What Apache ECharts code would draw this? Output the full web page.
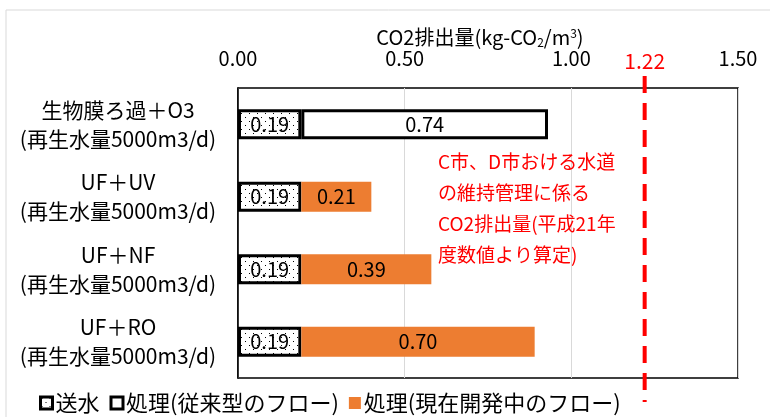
<!DOCTYPE html>
<html>
<head>
<meta charset="utf-8">
<script src="https://cdn.jsdelivr.net/npm/echarts@6/dist/echarts.min.js"></script>
<style>
  html, body { margin: 0; padding: 0; background: #fff; }
  #chart { width: 770px; height: 417px; }
</style>
</head>
<body>
<div id="chart"></div>
<script>
const categories = [
  '生物膜ろ過＋O3\n(再生水量5000m3/d)',
  'UF＋UV\n(再生水量5000m3/d)',
  'UF＋NF\n(再生水量5000m3/d)',
  'UF＋RO\n(再生水量5000m3/d)'
];
const sousui = [0.19, 0.19, 0.19, 0.19];
const shoriOld = [0.74, null, null, null];
const shoriNew = [null, 0.21, 0.39, 0.70];
const referenceValue = 1.22;
const xTicks = { min: 0, max: 1.5, interval: 0.5 };
const axisTitle = 'CO2排出量(kg-CO{sub|2}/m{sup|3})';
const noteText = 'C市、D市おける水道\nの維持管理に係る\nCO2排出量(平成21年\n度数値より算定)';

const FONT = '"Noto Sans CJK JP", "Noto Sans", sans-serif';

function makeDotPattern() {
  const c = document.createElement('canvas');
  c.width = 8;
  c.height = 8;
  const ctx = c.getContext('2d');
  ctx.fillStyle = '#ffffff';
  ctx.fillRect(0, 0, 8, 8);
  ctx.fillStyle = '#000000';
  ctx.fillRect(1, 1, 1, 1);
  ctx.fillRect(5, 5, 1, 1);
  return c;
}

const chart = echarts.init(document.getElementById('chart'), null, { renderer: 'canvas' });
const dots = { image: makeDotPattern(), repeat: 'repeat' };

const barLabel = {
  show: true,
  position: 'inside',
  color: '#000',
  fontSize: 20,
  fontFamily: FONT,
  formatter: (p) => (p.value == null ? '' : p.value.toFixed(2))
};

chart.setOption({
  animation: false,
  backgroundColor: '#fff',
  textStyle: { fontFamily: FONT },
  grid: {
    left: 238,
    right: 32,
    top: 88,
    bottom: 39,
    show: true,
    borderColor: '#000',
    borderWidth: 1.5,
    backgroundColor: 'transparent'
  },
  legend: {
    left: 34,
    bottom: -2,
    itemWidth: 12,
    itemHeight: 12,
    itemGap: 10,
    textStyle: { fontSize: 22, color: '#000', fontFamily: FONT, padding: [0, 0, 0, -2] },
    data: [
      { name: '送水', icon: 'rect', itemStyle: { color: dots, borderColor: '#000', borderWidth: 3 } },
      { name: '処理(従来型のフロー)', icon: 'rect', itemStyle: { color: '#fff', borderColor: '#000', borderWidth: 3 } },
      { name: '処理(現在開発中のフロー)', icon: 'rect', itemStyle: { color: '#ED7D31' } }
    ]
  },
  xAxis: {
    type: 'value',
    position: 'top',
    min: xTicks.min,
    max: xTicks.max,
    interval: xTicks.interval,
    axisLine: { show: false },
    axisTick: { show: false },
    axisLabel: {
      margin: 20,
      fontSize: 20,
      color: '#000',
      fontFamily: FONT,
      formatter: (v) => v.toFixed(2)
    },
    splitLine: { show: true, lineStyle: { color: '#d9d9d9', width: 1 } }
  },
  yAxis: {
    type: 'category',
    inverse: true,
    data: categories,
    axisLine: { show: true, lineStyle: { color: '#000', width: 1.5 } },
    axisTick: { show: false },
    axisLabel: {
      margin: 120,
      fontSize: 21,
      lineHeight: 29,
      color: '#000',
      align: 'center',
      fontFamily: FONT
    }
  },
  series: [
    {
      name: '送水',
      type: 'bar',
      stack: 'total',
      barWidth: 30,
      data: sousui,
      itemStyle: { color: dots, borderColor: '#000', borderWidth: 3 },
      label: barLabel
    },
    {
      name: '処理(従来型のフロー)',
      type: 'bar',
      stack: 'total',
      barWidth: 30,
      data: shoriOld,
      itemStyle: { color: '#fff', borderColor: '#000', borderWidth: 3 },
      label: barLabel
    },
    {
      name: '処理(現在開発中のフロー)',
      type: 'bar',
      stack: 'total',
      barWidth: 30,
      data: shoriNew,
      itemStyle: { color: '#ED7D31' },
      label: barLabel
    }
  ]
});

const refX = chart.convertToPixel({ xAxisIndex: 0 }, referenceValue);
const midX = chart.convertToPixel({ xAxisIndex: 0 }, (xTicks.min + xTicks.max) / 2);

chart.setOption({
  graphic: [
    {
      type: 'rect',
      silent: true,
      shape: { x: 6, y: 10, width: 800, height: 440 },
      style: { fill: 'none', stroke: '#d9d9d9', lineWidth: 1 }
    },
    {
      type: 'text',
      silent: true,
      x: midX - 8,
      y: 37,
      style: {
        text: axisTitle,
        fill: '#000',
        font: '20px ' + FONT,
        align: 'center',
        verticalAlign: 'middle',
        rich: {
          sub: { fontSize: 12, fill: '#000', fontFamily: FONT, padding: [10, 0, 0, 0] },
          sup: { fontSize: 12, fill: '#000', fontFamily: FONT, padding: [0, 0, 8, 0] }
        }
      }
    },
    {
      type: 'line',
      silent: true,
      z: 10,
      shape: { x1: refX, y1: 76, x2: refX, y2: 402 },
      style: { stroke: '#ff0000', lineWidth: 4, lineDash: [17, 10] }
    },
    {
      type: 'text',
      silent: true,
      z: 10,
      x: refX,
      y: 61,
      style: {
        text: referenceValue.toFixed(2),
        fill: '#ff0000',
        font: '21px ' + FONT,
        align: 'center',
        verticalAlign: 'middle'
      }
    },
    {
      type: 'text',
      silent: true,
      z: 10,
      x: 438,
      y: 146,
      style: {
        text: noteText,
        fill: '#ff0000',
        font: '19px ' + FONT,
        lineHeight: 31
      }
    }
  ]
});
</script>
</body>
</html>
